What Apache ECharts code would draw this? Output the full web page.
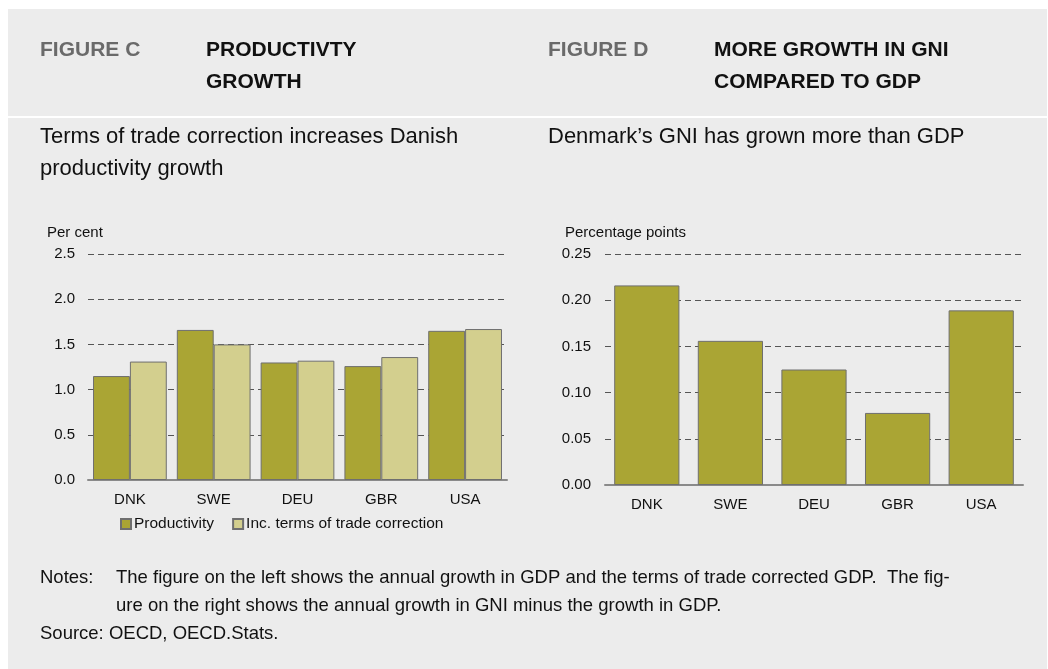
<!DOCTYPE html>
<html>
<head>
<meta charset="utf-8">
<script src="https://cdn.jsdelivr.net/npm/echarts@6/dist/echarts.min.js"></script>
<style>
  html, body { margin: 0; padding: 0; background: #fff; }
  #chart { width: 1048px; height: 669px; }
</style>
</head>
<body>
<div id="chart"></div>
<script>
// data
const countries = ['DNK', 'SWE', 'DEU', 'GBR', 'USA'];
const productivity = [1.15, 1.66, 1.30, 1.26, 1.65];
const tradeCorrected = [1.31, 1.50, 1.32, 1.36, 1.67];
const gniMinusGdp = [0.216, 0.156, 0.125, 0.078, 0.189];
const seriesNames = ['Productivity', 'Inc. terms of trade correction'];

const FONT = '"Liberation Sans", Arial, Helvetica, sans-serif';
const olive = '#aaa534';
const lightOlive = '#d3cf8e';
const edge = '#6f6f6f';

var myChart = echarts.init(document.getElementById('chart'));

function txt(x, y, text, size, color, weight) {
    return {
        type: 'text', x: x, y: y,
        style: {
            text: text, fill: color || '#111', fontSize: size,
            fontFamily: FONT, fontWeight: weight || 'normal',
            verticalAlign: 'middle', align: 'left'
        }
    };
}

var option = {
    backgroundColor: '#fff',
    animation: false,
    textStyle: { fontFamily: FONT },
    graphic: [
        // panels
        { type: 'rect', z: -10, shape: { x: 8, y: 9, width: 1039, height: 107 }, style: { fill: '#ececec' } },
        { type: 'rect', z: -10, shape: { x: 8, y: 118, width: 1039, height: 551 }, style: { fill: '#ececec' } },
        // headings
        txt(40, 50, 'FIGURE C', 21, '#6a6a6a', 'bold'),
        txt(206, 50, 'PRODUCTIVTY', 21, '#111', 'bold'),
        txt(206, 82, 'GROWTH', 21, '#111', 'bold'),
        txt(548, 50, 'FIGURE D', 21, '#6a6a6a', 'bold'),
        txt(714, 50, 'MORE GROWTH IN GNI', 21, '#111', 'bold'),
        txt(714, 82, 'COMPARED TO GDP', 21, '#111', 'bold'),
        // subtitles
        txt(40, 137, 'Terms of trade correction increases Danish', 22),
        txt(40, 169, 'productivity growth', 22),
        txt(548, 137, 'Denmark\u2019s GNI has grown more than GDP', 22),
        // axis units
        txt(47, 233, 'Per cent', 15),
        txt(565, 233, 'Percentage points', 15),
        // notes
        txt(40, 578, 'Notes:', 18.5),
        txt(116, 578, 'The figure on the left shows the annual growth in GDP and the terms of trade corrected GDP.  The fig-', 18.5),
        txt(116, 606, 'ure on the right shows the annual growth in GNI minus the growth in GDP.', 18.5),
        txt(40, 634, 'Source: OECD, OECD.Stats.', 18.5)
    ],
    legend: {
        left: 115, top: 511,
        itemWidth: 10, itemHeight: 10, itemGap: 18,
        icon: 'rect',
        textStyle: { fontSize: 15.5, color: '#111', fontFamily: FONT, padding: [0, 0, 0, -2] },
        data: seriesNames
    },
    grid: [
        { left: 88, right: 541, top: 254, bottom: 189 },
        { left: 605, right: 25, top: 254, bottom: 184 }
    ],
    xAxis: [0, 1].map(function (i) {
        return {
            type: 'category', gridIndex: i, data: countries,
            axisLine: { lineStyle: { color: '#8a8a8a', width: 2 } },
            axisTick: { show: false },
            axisLabel: { color: '#111', fontSize: 15, margin: 12, fontFamily: FONT }
        };
    }),
    yAxis: [
        {
            type: 'value', gridIndex: 0, min: 0, max: 2.5, interval: 0.5,
            axisLine: { show: false }, axisTick: { show: false },
            axisLabel: { color: '#111', fontSize: 15, margin: 13, fontFamily: FONT,
                formatter: function (v) { return v.toFixed(1); } },
            splitLine: { lineStyle: { color: '#555', type: [6, 4], width: 1 } }
        },
        {
            type: 'value', gridIndex: 1, min: 0, max: 0.25, interval: 0.05,
            axisLine: { show: false }, axisTick: { show: false },
            axisLabel: { color: '#111', fontSize: 15, margin: 14, fontFamily: FONT,
                formatter: function (v) { return v.toFixed(2); } },
            splitLine: { lineStyle: { color: '#555', type: [6, 4], width: 1 } }
        }
    ],
    series: [
        {
            name: seriesNames[0], type: 'bar', xAxisIndex: 0, yAxisIndex: 0,
            data: productivity, barGap: '0%', barCategoryGap: '12%',
            itemStyle: { color: olive, borderColor: edge, borderWidth: 1 }
        },
        {
            name: seriesNames[1], type: 'bar', xAxisIndex: 0, yAxisIndex: 0,
            data: tradeCorrected, barGap: '0%', barCategoryGap: '12%',
            itemStyle: { color: lightOlive, borderColor: edge, borderWidth: 1 }
        },
        {
            name: 'GNI minus GDP', type: 'bar', xAxisIndex: 1, yAxisIndex: 1,
            data: gniMinusGdp, barCategoryGap: '22%',
            itemStyle: { color: olive, borderColor: edge, borderWidth: 1 }
        }
    ]
};

myChart.setOption(option);
</script>
</body>
</html>
